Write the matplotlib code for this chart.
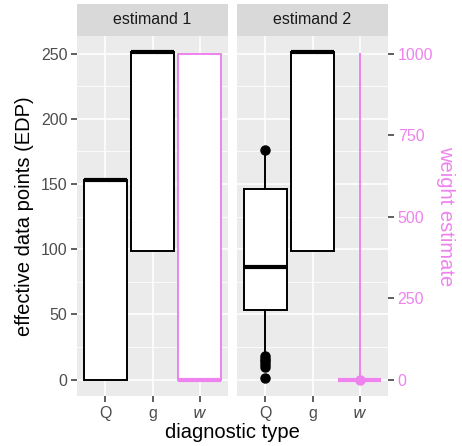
import matplotlib
matplotlib.use("Agg")
import matplotlib.pyplot as plt
from matplotlib.ticker import FixedLocator

plt.rcParams['font.family'] = ['Liberation Sans', 'DejaVu Sans']

categories = ['Q', 'g', 'w']
panels = ['estimand 1', 'estimand 2']

# box stats (EDP scale for Q, g; weight scale for w)
e1_Q = dict(whislo=0, q1=0, med=153, q3=153, whishi=153, fliers=[])
e1_g = dict(whislo=99, q1=99, med=251, q3=251, whishi=251, fliers=[])
e1_w = dict(whislo=0, q1=0, med=0, q3=1000, whishi=1000, fliers=[])
e2_Q = dict(whislo=17, q1=53.5, med=86.5, q3=146.5, whishi=176,
            fliers=[176, 18, 16, 14, 12, 10, 1.5])
e2_g = dict(whislo=99, q1=99, med=251, q3=251, whishi=251, fliers=[])
e2_w = dict(whislo=0, q1=0, med=0, q3=0, whishi=1000, fliers=[0])

stats = [[e1_Q, e1_g, e1_w], [e2_Q, e2_g, e2_w]]
weight_scale = 4.0  # weight = EDP * 4

yticks = [0, 50, 100, 150, 200, 250]
yminor = [25, 75, 125, 175, 225]
wticks = [0, 250, 500, 750, 1000]

W, H = 462, 446
fig = plt.figure(figsize=(W / 100, H / 100), dpi=100)

panel_x = [(77, 228), (237, 388)]
ptop, pbot = 36, 396
strip_top = 4

pink = '#EE82EE'
bg = '#EBEBEB'

axes = []
for i, (x0, x1) in enumerate(panel_x):
    ax = fig.add_axes([x0 / W, 1 - pbot / H, (x1 - x0) / W, (pbot - ptop) / H])
    axes.append(ax)
    ax.set_facecolor(bg)
    for s in ax.spines.values():
        s.set_visible(False)
    ax.set_xlim(0.4, 3.6)
    ax.set_ylim(-12.55, 263.55)
    for y in yminor:
        ax.axhline(y, color='white', lw=0.55, zorder=0)
    for y in yticks:
        ax.axhline(y, color='white', lw=1.1, zorder=0)
    for x in [1, 2, 3]:
        ax.axvline(x, color='white', lw=1.1, zorder=0)

    st = []
    for j, s in enumerate(stats[i]):
        d = dict(s)
        if categories[j] == 'w':
            for k in ['whislo', 'q1', 'med', 'q3', 'whishi']:
                d[k] = d[k] / weight_scale
            d['fliers'] = [f / weight_scale for f in d['fliers']]
        st.append(d)
    for j, d in enumerate(st):
        col = pink if categories[j] == 'w' else 'black'
        ax.bxp([d], positions=[j + 1], widths=0.9, patch_artist=True,
               showcaps=False, showfliers=True,
               boxprops=dict(facecolor='white', edgecolor=col, linewidth=1.4),
               whiskerprops=dict(color=col, linewidth=1.4),
               medianprops=dict(color=col, linewidth=3.0, solid_capstyle='butt'),
               flierprops=dict(marker='o', markerfacecolor=col, markeredgecolor=col,
                               markersize=6.5, linestyle='none'),
               manage_ticks=False, zorder=3)

    ax.set_xticks([1, 2, 3])
    ax.set_xticklabels(['Q', 'g', '$w$'])
    ax.tick_params(axis='x', length=4, width=1.1, color='#333333', labelcolor='#4D4D4D',
                   labelsize=11.5, pad=3)
    ax.set_yticks(yticks)
    if i == 0:
        ax.tick_params(axis='y', length=4, width=1.1, color='#333333', labelcolor='#4D4D4D',
                       labelsize=11.5, pad=3)
        ax.set_ylabel('effective data points (EDP)', fontsize=14.5, color='black', labelpad=5)
    else:
        ax.tick_params(axis='y', left=False, labelleft=False)
        sec = ax.secondary_yaxis('right', functions=(lambda v: v * weight_scale,
                                                     lambda v: v / weight_scale))
        sec.set_yticks(wticks)
        for s in sec.spines.values():
            s.set_visible(False)
        sec.tick_params(axis='y', length=4, width=1.1, color='#333333', labelcolor=pink,
                        labelsize=11.5, pad=3)
        sec.set_ylabel('weight estimate', color=pink, fontsize=14.5, rotation=270,
                       labelpad=16)

    # strip
    sax = fig.add_axes([x0 / W, 1 - ptop / H, (x1 - x0) / W, (ptop - strip_top) / H])
    sax.set_facecolor('#D9D9D9')
    sax.set_xticks([]); sax.set_yticks([])
    for s in sax.spines.values():
        s.set_visible(False)
    sax.text(0.5, 0.5, panels[i], ha='center', va='center', fontsize=11.5,
             color='#1A1A1A', transform=sax.transAxes)

fig.text((77 + 388) / 2 / W, 1 - 433 / H, 'diagnostic type', ha='center', va='center',
         fontsize=14.5)

fig.savefig('out.png', dpi=100)
